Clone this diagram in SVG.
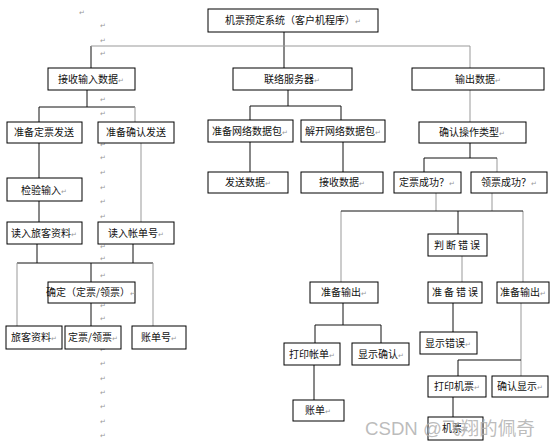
<svg xmlns="http://www.w3.org/2000/svg" width="553" height="445" viewBox="0 0 553 445">
<style>
.b{fill:#fff;stroke:#000;stroke-width:1}
.t{font-family:"Noto Sans CJK SC","Liberation Sans",sans-serif;font-size:10px;fill:#111;text-anchor:middle}
.p{font-family:"DejaVu Sans",sans-serif;font-size:7px;fill:#999}
.k{stroke:#111;stroke-width:1;fill:none}
.g{stroke:#999;stroke-width:1;fill:none}
.m{font-family:"DejaVu Sans",sans-serif;font-size:7px;fill:#999;text-anchor:middle}
</style>
<rect width="553" height="445" fill="#fff"/>
<g id="marks">
<text class="m" x="82" y="15">↵</text>
<text class="m" x="103" y="28">↵</text><text class="m" x="103" y="43">↵</text><text class="m" x="103" y="56">↵</text>
<text class="m" x="103" y="102">↵</text><text class="m" x="103" y="116">↵</text><text class="m" x="103" y="147">↵</text>
<text class="m" x="103" y="160">↵</text><text class="m" x="103" y="175">↵</text><text class="m" x="103" y="190">↵</text>
<text class="m" x="103" y="204">↵</text><text class="m" x="103" y="219">↵</text><text class="m" x="103" y="249">↵</text>
<text class="m" x="103" y="261">↵</text><text class="m" x="103" y="278">↵</text><text class="m" x="103" y="308">↵</text>
<text class="m" x="103" y="321">↵</text><text class="m" x="103" y="352">↵</text><text class="m" x="103" y="366">↵</text>
<text class="m" x="103" y="381">↵</text><text class="m" x="103" y="395">↵</text><text class="m" x="103" y="409">↵</text>
<text class="m" x="103" y="424">↵</text><text class="m" x="103" y="438">↵</text>
</g>
<g id="connectors">
<path class="k" d="M284,32V68M91,46V68M87,90V107M39,107H135M39,107V122M39,143V178M39,201V222"/>
<path class="g" d="M91,46H470M470,46V68M135,107V122M141,143V222"/>
<path class="k" d="M288,90V106M250,106H341M250,106V120M341,106V120M250,142V172M343,142V172"/>
<path class="g" d="M470,90V122M497,158V172"/>
<path class="k" d="M470,143V158M424,158H497M424,158V172"/>
<path class="g" d="M436,193V211M492,193V211M341,211V282M523,211V282M462,256V282M521,303V376"/>
<path class="k" d="M341,211H523M458,211V234"/>
<path class="k" d="M343,303V325M315,325H381M315,325V343M381,325V343M314,365V400"/>
<path class="k" d="M453,303V332M458,360H521M458,360V376M453,397V417"/>
<path class="k" d="M37,244V263M133,244V263M17,263H153M91,263V282M91,303V326"/>
<path class="g" d="M17,263V326M153,263V326"/>
</g>
<g id="n1"><rect class="b" x="208" y="9" width="170" height="23"/><text class="t" x="293" y="24">机票预定系统（客户机程序）<tspan class="p">↵</tspan></text></g>
<g id="n2"><rect class="b" x="48" y="68" width="87" height="22"/><text class="t" x="91" y="83">接收输入数据<tspan class="p">↵</tspan></text></g>
<g id="n3"><rect class="b" x="233" y="68" width="119" height="22"/><text class="t" x="292" y="83">联络服务器<tspan class="p">↵</tspan></text></g>
<g id="n4"><rect class="b" x="412" y="68" width="132" height="22"/><text class="t" x="478" y="83">输出数据<tspan class="p">↵</tspan></text></g>
<g id="n5"><rect class="b" x="7" y="122" width="75" height="21"/><text class="t" x="44" y="136">准备定票发送</text></g>
<g id="n6"><rect class="b" x="98" y="122" width="76" height="21"/><text class="t" x="136" y="136">准备确认发送</text></g>
<g id="n7"><rect class="b" x="208" y="120" width="85" height="22"/><text class="t" x="250" y="135">准备网络数据包<tspan class="p">↵</tspan></text></g>
<g id="n8"><rect class="b" x="301" y="120" width="84" height="22"/><text class="t" x="343" y="135">解开网络数据包<tspan class="p">↵</tspan></text></g>
<g id="n9"><rect class="b" x="419" y="122" width="107" height="21"/><text class="t" x="472" y="136">确认操作类型<tspan class="p">↵</tspan></text></g>
<g id="n10"><rect class="b" x="7" y="178" width="75" height="23"/><text class="t" x="44" y="194">检验输入<tspan class="p">↵</tspan></text></g>
<g id="n11"><rect class="b" x="7" y="222" width="75" height="22"/><text class="t" x="44" y="237">读入旅客资料<tspan class="p">↵</tspan></text></g>
<g id="n12"><rect class="b" x="98" y="222" width="76" height="22"/><text class="t" x="136" y="237">读入帐单号<tspan class="p">↵</tspan></text></g>
<g id="n13"><rect class="b" x="208" y="172" width="80" height="21"/><text class="t" x="248" y="186">发送数据<tspan class="p">↵</tspan></text></g>
<g id="n14"><rect class="b" x="301" y="172" width="82" height="21"/><text class="t" x="342" y="186">接收数据<tspan class="p">↵</tspan></text></g>
<g id="n15"><rect class="b" x="394" y="172" width="67" height="21"/><text class="t" x="427" y="186">定票成功？<tspan class="p">↵</tspan></text></g>
<g id="n16"><rect class="b" x="471" y="172" width="76" height="21"/><text class="t" x="509" y="186">领票成功？<tspan class="p">↵</tspan></text></g>
<g id="n17"><rect class="b" x="48" y="282" width="87" height="21"/><text class="t" x="91" y="296">确定（定票/领票）<tspan class="p">↵</tspan></text></g>
<g id="n18"><rect class="b" x="6" y="326" width="56" height="23"/><text class="t" x="34" y="341">旅客资料<tspan class="p">↵</tspan></text></g>
<g id="n19"><rect class="b" x="65" y="326" width="56" height="23"/><text class="t" x="93" y="341">定票/领票<tspan class="p">↵</tspan></text></g>
<g id="n20"><rect class="b" x="132" y="326" width="54" height="23"/><text class="t" x="159" y="341">账单号<tspan class="p">↵</tspan></text></g>
<g id="n21"><rect class="b" x="428" y="234" width="59" height="22"/><text class="t" x="458" y="249" letter-spacing="2">判断错误</text></g>
<g id="n22"><rect class="b" x="310" y="282" width="68" height="21"/><text class="t" x="344" y="296">准备输出<tspan class="p">↵</tspan></text></g>
<g id="n23"><rect class="b" x="428" y="282" width="54" height="21"/><text class="t" x="456" y="296" letter-spacing="2">准备错误</text></g>
<g id="n24"><rect class="b" x="497" y="282" width="52" height="21"/><text class="t" x="523" y="296">准备输出<tspan class="p">↵</tspan></text></g>
<g id="n25"><rect class="b" x="284" y="343" width="56" height="22"/><text class="t" x="312" y="358">打印帐单<tspan class="p">↵</tspan></text></g>
<g id="n26"><rect class="b" x="352" y="343" width="57" height="22"/><text class="t" x="381" y="358">显示确认<tspan class="p">↵</tspan></text></g>
<g id="n27"><rect class="b" x="420" y="332" width="57" height="22"/><text class="t" x="448" y="347">显示错误<tspan class="p">↵</tspan></text></g>
<g id="n28"><rect class="b" x="293" y="400" width="51" height="21"/><text class="t" x="318" y="414">账单<tspan class="p">↵</tspan></text></g>
<g id="n29"><rect class="b" x="428" y="376" width="58" height="21"/><text class="t" x="457" y="390">打印机票<tspan class="p">↵</tspan></text></g>
<g id="n30"><rect class="b" x="492" y="376" width="56" height="21"/><text class="t" x="520" y="390">确认显示<tspan class="p">↵</tspan></text></g>
<g id="n31"><rect class="b" x="428" y="417" width="55" height="23"/><text class="t" x="455" y="432">机票<tspan class="p">↵</tspan></text></g>
<text x="365" y="435" font-family="'Liberation Sans','Noto Sans CJK SC',sans-serif" font-size="18" fill="#b0b0b0" fill-opacity="0.85" textLength="170" lengthAdjust="spacingAndGlyphs">CSDN @飞翔的佩奇</text>
</svg>
